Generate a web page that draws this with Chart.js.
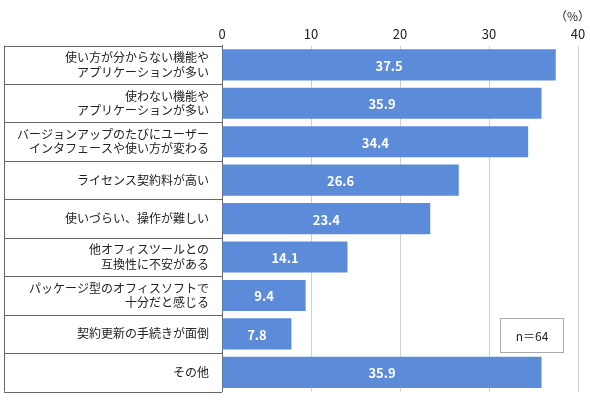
<!DOCTYPE html><html><head><meta charset="utf-8">
<script src="https://cdn.jsdelivr.net/npm/chart.js@4"></script>
<style>body{margin:0;background:#fff}#w{position:relative;width:590px;height:411px}</style></head><body>
<div id="w"><canvas id="c" width="590" height="411"></canvas></div>
<script>
const categories=[["使い方が分からない機能や","アプリケーションが多い"],["使わない機能や","アプリケーションが多い"],["バージョンアップのたびにユーザー","インタフェースや使い方が変わる"],"ライセンス契約料が高い","使いづらい、操作が難しい",["他オフィスツールとの","互換性に不安がある"],["パッケージ型のオフィスソフトで","十分だと感じる"],"契約更新の手続きが面倒","その他"];
const values=[37.5,35.9,34.4,26.6,23.4,14.1,9.4,7.8,35.9];
const tickLabels=[0,10,20,30,40];
const F="'Noto Sans CJK JP','Noto Sans',sans-serif";
const deco={id:'deco',afterDraw(ch){const c=ch.ctx,a=ch.chartArea,y=ch.scales.y;c.save();c.strokeStyle='#666';c.lineWidth=1;
for(let i=0;i<=categories.length;i++){let p;if(i==0)p=a.top;else if(i==categories.length)p=a.bottom;else p=(y.getPixelForValue(i-1)+y.getPixelForValue(i))/2;p=Math.round(p)+0.5;c.beginPath();c.moveTo(4,p);c.lineTo(a.left,p);c.stroke();}
c.beginPath();c.moveTo(4.5,a.top);c.lineTo(4.5,a.bottom);c.stroke();
c.fillStyle='#fff';c.font='bold 13px '+F;c.textAlign='center';c.textBaseline='middle';
ch.getDatasetMeta(0).data.forEach((b,i)=>{c.fillText(values[i].toFixed(1),(b.base+b.x)/2,b.y+1);});
c.fillStyle='#222';c.font='12px '+F;c.textAlign='right';c.fillText('（%）',590,16);
c.strokeStyle='#aaa';c.fillStyle='#fff';c.fillRect(500,318,63,34);c.strokeRect(500.5,318.5,63,34);c.fillStyle='#222';c.textAlign='center';c.fillText('n＝64',532,336);
c.restore();}};
new Chart(document.getElementById('c'),{type:'bar',data:{labels:categories,datasets:[{data:values,backgroundColor:'#5b8bd9',barPercentage:0.9,categoryPercentage:0.9}]},
options:{indexAxis:'y',responsive:false,animation:false,layout:{padding:{left:4,right:12,top:22,bottom:15}},plugins:{legend:{display:false},tooltip:{enabled:false}},
scales:{x:{position:'top',min:0,max:40,afterBuildTicks(s){s.ticks=tickLabels.map(v=>({value:v}));},ticks:{color:'#222',font:{family:F,size:13},padding:4},grid:{color:'#d0d0d0',drawTicks:false},border:{display:false}},
y:{ticks:{color:'#222',font:{family:F,size:12},padding:5,crossAlign:'near'},grid:{display:false},border:{color:'#666'},afterFit(s){s.width=218;}}}},plugins:[deco]});
</script></body></html>
